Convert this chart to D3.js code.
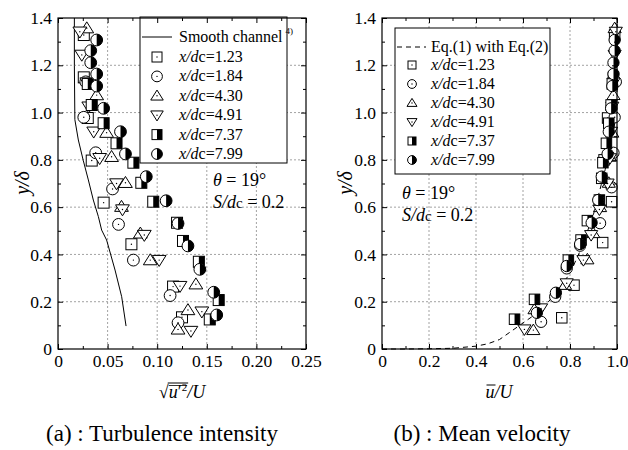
<!DOCTYPE html>
<html>
<head>
<meta charset="utf-8">
<script src="https://cdn.jsdelivr.net/npm/d3@7"></script>
<style>
body { margin: 0; background: #fff; }
svg text { font-family: "Liberation Serif", serif !important; fill: #000; }
.axis path { display: none; }
.axis line { stroke: #000; }
.grid line { stroke: #8a8a8a; stroke-dasharray: 2, 2; stroke-width: 0.8; }
</style>
</head>
<body>
<script>
// series labels (x/dc) and marker shapes
const seriesNames = ['1.23', '1.84', '4.30', '4.91', '7.37', '7.99'];
const seriesShapes = ['square', 'circle', 'triUp', 'triDown', 'halfSquare', 'halfCircle'];

// (a) turbulence intensity: [sqrt(u'^2)/U, y/delta]
const turb123 = [[0.125,0.134],[0.116,0.264],[0.074,0.443],[0.046,0.619],[0.034,0.797],[0.030,0.977],[0.026,1.149],[0.026,1.328]];
const turb184 = [[0.121,0.111],[0.113,0.226],[0.076,0.376],[0.061,0.527],[0.055,0.677],[0.038,0.830],[0.026,0.980],[0.028,1.130]];
const turb430 = [[0.121,0.083],[0.131,0.165],[0.139,0.274],[0.093,0.376],[0.083,0.489],[0.064,0.602],[0.068,0.703],[0.054,0.813],[0.049,0.915],[0.039,1.074],[0.029,1.357]];
const turb491 = [[0.134,0.076],[0.145,0.158],[0.123,0.266],[0.102,0.376],[0.087,0.482],[0.065,0.590],[0.059,0.700],[0.042,0.807],[0.036,0.919],[0.031,1.025],[0.029,1.127],[0.024,1.244],[0.022,1.342]];
const turb737 = [[0.153,0.125],[0.162,0.207],[0.142,0.369],[0.126,0.457],[0.120,0.534],[0.096,0.623],[0.084,0.703],[0.076,0.788],[0.059,0.870],[0.046,0.955],[0.034,1.032],[0.030,1.121]];
const turb799 = [[0.160,0.144],[0.157,0.240],[0.143,0.337],[0.131,0.436],[0.121,0.531],[0.109,0.627],[0.089,0.729],[0.068,0.825],[0.063,0.919],[0.046,1.018],[0.039,1.112],[0.039,1.163],[0.033,1.211],[0.033,1.262],[0.039,1.307]];

// smooth channel reference line
const smoothChannel = [[0.0686,0.097],[0.0642,0.221],[0.0575,0.334],[0.049,0.461],[0.044,0.503],[0.0407,0.56],[0.0356,0.63],[0.0306,0.715],[0.0255,0.797],[0.0205,0.884],[0.017,0.97],[0.0165,1.2],[0.0165,1.4]];

// (b) mean velocity: [u/U, y/delta]
const vel123 = [[0.765,0.132],[0.817,0.270],[0.939,0.450],[0.977,0.623],[0.945,0.800],[0.960,0.977],[0.985,1.149],[0.990,1.328]];
const vel184 = [[0.677,0.115],[0.737,0.221],[0.786,0.341],[0.843,0.437],[0.928,0.532],[0.977,0.684],[0.985,0.830],[0.990,0.980],[0.995,1.130]];
const vel430 = [[0.644,0.080],[0.649,0.168],[0.779,0.271],[0.874,0.379],[0.899,0.490],[0.928,0.600],[0.965,0.703],[0.970,0.813],[0.980,0.915],[0.985,1.074],[0.990,1.357]];
const vel491 = [[0.606,0.083],[0.677,0.172],[0.786,0.278],[0.857,0.376],[0.890,0.482],[0.925,0.590],[0.960,0.700],[0.970,0.807],[0.975,0.919],[0.980,1.025],[0.985,1.127],[0.990,1.244],[0.995,1.342]];
const vel737 = [[0.564,0.126],[0.649,0.210],[0.793,0.376],[0.847,0.461],[0.874,0.543],[0.925,0.630],[0.935,0.722],[0.940,0.788],[0.955,0.870],[0.965,0.955],[0.975,1.032],[0.980,1.121]];
const vel799 = [[0.659,0.153],[0.740,0.238],[0.786,0.351],[0.843,0.444],[0.892,0.534],[0.920,0.630],[0.935,0.729],[0.960,0.825],[0.965,0.919],[0.975,1.018],[0.980,1.112],[0.985,1.163],[0.985,1.211],[0.990,1.262],[0.990,1.307]];

// Eq.(1) with Eq.(2) curve
const eqU = [0, 0.1, 0.2, 0.3, 0.4, 0.45, 0.5, 0.55, 0.6, 0.65, 0.7, 0.75, 0.8, 0.85, 0.9, 0.95, 1.0, 1.0];
const eqY = [0, 0, 0.001, 0.003, 0.012, 0.022, 0.04, 0.075, 0.11, 0.145, 0.19, 0.25, 0.32, 0.43, 0.57, 0.76, 1.0, 1.4];

// ticks
const turbTicks = [0, 0.05, 0.10, 0.15, 0.20, 0.25];
const turbMinor = [0.025, 0.075, 0.125, 0.175, 0.225];
const velTicks = [0, 0.2, 0.4, 0.6, 0.8, 1.0];
const velMinor = [0.1, 0.3, 0.5, 0.7, 0.9];
const yTicks = [0, 0.2, 0.4, 0.6, 0.8, 1.0, 1.2, 1.4];
const yMinor = [0.1, 0.3, 0.5, 0.7, 0.9, 1.1, 1.3];

const W = 628, H = 450;
const plotTop = 18, plotBottom = 349;

const svg = d3.select('body').append('svg')
    .attr('width', W)
    .attr('height', H);

svg.append('rect').attr('width', W).attr('height', H).attr('fill', '#fff');

function marker(g, shape, cx, cy, s) {
    const h = s / 2;
    if (shape === 'square') {
        g.append('rect').attr('x', cx - h).attr('y', cy - h).attr('width', s).attr('height', s)
            .attr('fill', '#fff').attr('stroke', '#000');
    } else if (shape === 'circle') {
        g.append('circle').attr('cx', cx).attr('cy', cy).attr('r', h + 0.4)
            .attr('fill', '#fff').attr('stroke', '#000');
    } else if (shape === 'triUp') {
        g.append('path')
            .attr('d', `M${cx},${cy - h * 1.15}L${cx + h * 1.25},${cy + h * 0.85}L${cx - h * 1.25},${cy + h * 0.85}Z`)
            .attr('fill', '#fff').attr('stroke', '#000');
    } else if (shape === 'triDown') {
        g.append('path')
            .attr('d', `M${cx},${cy + h * 1.15}L${cx + h * 1.25},${cy - h * 0.85}L${cx - h * 1.25},${cy - h * 0.85}Z`)
            .attr('fill', '#fff').attr('stroke', '#000');
    } else if (shape === 'halfSquare') {
        g.append('rect').attr('x', cx - h).attr('y', cy - h).attr('width', s).attr('height', s)
            .attr('fill', '#fff');
        g.append('rect').attr('x', cx).attr('y', cy - h).attr('width', h).attr('height', s)
            .attr('fill', '#000');
        g.append('rect').attr('x', cx - h).attr('y', cy - h).attr('width', s).attr('height', s)
            .attr('fill', 'none').attr('stroke', '#000');
        return;
    } else if (shape === 'halfCircle') {
        const r = h + 0.4;
        g.append('circle').attr('cx', cx).attr('cy', cy).attr('r', r).attr('fill', '#fff');
        g.append('path')
            .attr('d', `M${cx},${cy - r}A${r},${r} 0 0 1 ${cx},${cy + r}Z`)
            .attr('fill', '#000');
        g.append('circle').attr('cx', cx).attr('cy', cy).attr('r', r)
            .attr('fill', 'none').attr('stroke', '#000');
        return;
    }
    // little centre dot
    g.append('circle').attr('cx', cx).attr('cy', cy).attr('r', 0.7).attr('fill', '#000');
}

function panel(o) {
    const x = d3.scaleLinear().domain([o.xTicks[0], o.xTicks[o.xTicks.length - 1]]).range([o.left, o.right]);
    const y = d3.scaleLinear().domain([0, 1.4]).range([plotBottom, plotTop]);
    const g = svg.append('g');

    // dashed grid
    const grid = g.append('g').attr('class', 'grid');
    grid.selectAll('.gx').data(o.xTicks.slice(1, -1)).enter().append('line')
        .attr('x1', d => x(d)).attr('x2', d => x(d)).attr('y1', plotTop).attr('y2', plotBottom);
    grid.selectAll('.gy').data(yTicks.slice(1, -1)).enter().append('line')
        .attr('x1', o.left).attr('x2', o.right).attr('y1', d => y(d)).attr('y2', d => y(d));

    // reference curve
    g.append('path')
        .datum(o.curve)
        .attr('fill', 'none')
        .attr('stroke', '#000')
        .attr('stroke-width', 1)
        .attr('stroke-dasharray', o.curveDash)
        .attr('d', d3.line().x(d => x(d[0])).y(d => y(d[1])));

    // data
    o.series.forEach((pts, i) => {
        const sg = g.append('g');
        pts.forEach(p => marker(sg, seriesShapes[i], x(p[0]), y(p[1]), o.size));
    });

    // legend
    const lg = g.append('g');
    lg.append('rect').attr('x', o.leg.x).attr('y', o.leg.y).attr('width', o.leg.w).attr('height', o.leg.h)
        .attr('fill', '#fff').attr('stroke', '#000');
    lg.append('line').attr('x1', o.leg.lineX1).attr('x2', o.leg.lineX2)
        .attr('y1', o.leg.lineY).attr('y2', o.leg.lineY)
        .attr('stroke', '#000').attr('stroke-dasharray', o.curveDash);
    const lt = lg.append('text').attr('x', o.leg.textX).attr('y', o.leg.lineY + 5).attr('font-size', 16);
    lt.append('tspan').text(o.leg.lineText);
    if (o.leg.sup) {
        lt.append('tspan').attr('font-size', 9).attr('dy', -8).attr('dx', 3).text(o.leg.sup);
    }
    seriesNames.forEach((nm, i) => {
        const cy = o.leg.row0 + i * o.leg.rowH;
        marker(lg, seriesShapes[i], o.leg.markX, cy, o.leg.mSize);
        const t = lg.append('text').attr('x', o.leg.textX).attr('y', cy + 5).attr('font-size', 16);
        t.append('tspan').attr('font-style', 'italic').text('x/d');
        t.append('tspan').text('c=' + nm);
    });

    // axes with inward ticks on all sides
    const fmt = o.fmt;
    const ax = (axis, vals, size, tr, f) => g.append('g').attr('class', 'axis')
        .attr('transform', tr)
        .call(axis.tickValues(vals).tickSize(size).tickSizeOuter(0).tickPadding(o.pad).tickFormat(f))
        .call(s => s.selectAll('text').attr('font-size', 17.5));
    ax(d3.axisBottom(x), o.xTicks, -5, `translate(0,${plotBottom})`, fmt);
    ax(d3.axisBottom(x), o.xMinor, -3, `translate(0,${plotBottom})`, '');
    ax(d3.axisTop(x), o.xTicks, -5, `translate(0,${plotTop})`, '');
    ax(d3.axisTop(x), o.xMinor, -3, `translate(0,${plotTop})`, '');
    ax(d3.axisLeft(y), yTicks, -5, `translate(${o.left},0)`, d => d === 0 ? '0' : d3.format('.1f')(d));
    ax(d3.axisLeft(y), yMinor, -3, `translate(${o.left},0)`, '');
    ax(d3.axisRight(y), yTicks, -5, `translate(${o.right},0)`, '');
    ax(d3.axisRight(y), yMinor, -3, `translate(${o.right},0)`, '');

    g.append('rect').attr('x', o.left).attr('y', plotTop)
        .attr('width', o.right - o.left).attr('height', plotBottom - plotTop)
        .attr('fill', 'none').attr('stroke', '#000').attr('stroke-width', 1.2);

    // y axis label
    const yl = g.append('text')
        .attr('transform', `translate(${o.yLabX},183) rotate(-90)`)
        .attr('text-anchor', 'middle')
        .attr('font-size', 20)
        .attr('font-style', 'italic');
    yl.text('y/δ');

    // annotations
    const a1 = g.append('text').attr('x', o.annX).attr('y', o.annY).attr('font-size', 18);
    a1.append('tspan').attr('font-style', 'italic').text('θ');
    a1.append('tspan').text(' = 19°');
    const a2 = g.append('text').attr('x', o.annX).attr('y', o.annY + 22).attr('font-size', 18);
    a2.append('tspan').attr('font-style', 'italic').text('S/d');
    a2.append('tspan').attr('font-size', 15).text('c');
    a2.append('tspan').text(' = 0.2');

    return { x, y, g };
}

panel({
    left: 58, right: 306,
    xTicks: turbTicks, xMinor: turbMinor,
    fmt: d => d === 0 ? '0' : d3.format('.2f')(d),
    pad: 6,
    curve: smoothChannel, curveDash: null,
    series: [turb123, turb184, turb430, turb491, turb737, turb799],
    size: 11,
    leg: { x: 140, y: 17, w: 147, h: 146, lineX1: 142, lineX2: 172, lineY: 37, textX: 179,
           lineText: 'Smooth channel', sup: '4)', markX: 157, row0: 57, rowH: 19.4, mSize: 10 },
    yLabX: 29,
    annX: 213, annY: 186
});

panel({
    left: 382, right: 617,
    xTicks: velTicks, xMinor: velMinor,
    fmt: d => d === 0 ? '0' : d3.format('.1f')(d),
    pad: 6,
    curve: eqU.map((u, i) => [u, eqY[i]]), curveDash: '5,4',
    series: [vel123, vel184, vel430, vel491, vel737, vel799],
    size: 10.5,
    leg: { x: 395, y: 28, w: 155, h: 146, lineX1: 397, lineX2: 426, lineY: 47, textX: 431,
           lineText: 'Eq.(1) with Eq.(2)', sup: null, markX: 412, row0: 65, rowH: 19, mSize: 8 },
    yLabX: 352,
    annX: 402, annY: 199
});

// x axis labels
const xl1 = svg.append('text').attr('y', 398).attr('font-size', 18);
xl1.append('tspan').text('√');
xl1.append('tspan').attr('font-style', 'italic').text('u');
xl1.append('tspan').text('′');
xl1.append('tspan').attr('font-size', 11).attr('dy', -7).text('2');
xl1.append('tspan').attr('dy', 7).attr('font-style', 'italic').text('/U');
const w1 = xl1.node().getComputedTextLength();
xl1.attr('x', 182 - w1 / 2);
const n1 = xl1.node();
const s1 = n1.getStartPositionOfChar(1).x, e1 = n1.getEndPositionOfChar(3).x;
svg.append('line').attr('x1', s1 - 1).attr('x2', e1 + 1).attr('y1', 383).attr('y2', 383).attr('stroke', '#000');
svg.append('line').attr('x1', s1).attr('x2', e1).attr('y1', 385.5).attr('y2', 385.5).attr('stroke', '#000').attr('stroke-width', 0.8);

const xl2 = svg.append('text').attr('y', 398).attr('font-size', 18).attr('font-style', 'italic');
xl2.append('tspan').text('u');
xl2.append('tspan').text('/U');
const w2 = xl2.node().getComputedTextLength();
xl2.attr('x', 499 - w2 / 2);
const n2 = xl2.node();
svg.append('line').attr('x1', n2.getStartPositionOfChar(0).x + 1).attr('x2', n2.getEndPositionOfChar(0).x + 1)
    .attr('y1', 385).attr('y2', 385).attr('stroke', '#000');

// captions
svg.append('text').attr('x', 162).attr('y', 441).attr('text-anchor', 'middle').attr('font-size', 23)
    .text('(a) : Turbulence intensity');
svg.append('text').attr('x', 482).attr('y', 441).attr('text-anchor', 'middle').attr('font-size', 23)
    .text('(b) : Mean velocity');
</script>
</body>
</html>
